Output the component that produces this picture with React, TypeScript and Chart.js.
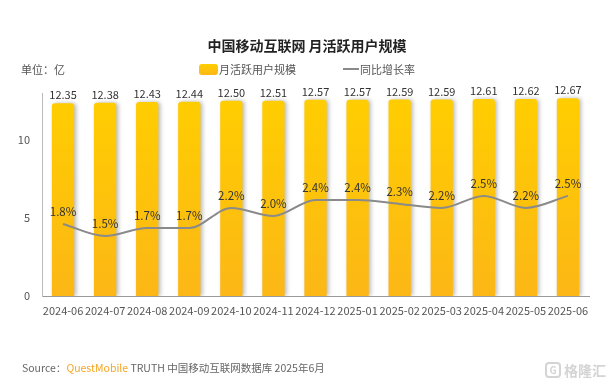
import React, { useEffect, useRef } from "react";
import { Chart, registerables } from "chart.js";

Chart.register(...registerables);

const categories = ["2024-06", "2024-07", "2024-08", "2024-09", "2024-10", "2024-11", "2024-12", "2025-01", "2025-02", "2025-03", "2025-04", "2025-05", "2025-06"];
const mauValues = [12.35, 12.38, 12.43, 12.44, 12.5, 12.51, 12.57, 12.57, 12.59, 12.59, 12.61, 12.62, 12.67];
const yoyValues = [1.8, 1.5, 1.7, 1.7, 2.2, 2.0, 2.4, 2.4, 2.3, 2.2, 2.5, 2.2, 2.5];
const yTicks = [0, 5, 10];

const FONT = "'Noto Sans CJK SC', 'Noto Sans', sans-serif";

const labelPlugin = {
  id: "valueLabels",
  afterDatasetsDraw(chart: any) {
    const ctx = chart.ctx;
    ctx.save();
    ctx.font = `11px ${FONT}`;
    ctx.fillStyle = "#333";
    ctx.textAlign = "center";
    ctx.textBaseline = "middle";
    const barMeta = chart.getDatasetMeta(0);
    barMeta.data.forEach((el: any, i: number) => {
      ctx.fillText(mauValues[i].toFixed(2), el.x, el.y - 8);
    });
    ctx.font = `11.5px ${FONT}`;
    const lineMeta = chart.getDatasetMeta(1);
    lineMeta.data.forEach((el: any, i: number) => {
      ctx.fillText(yoyValues[i].toFixed(1) + "%", el.x, el.y - 12);
    });
    ctx.restore();
  },
};

const shadowPlugin = {
  id: "barShadow",
  beforeDatasetDraw(chart: any, args: any) {
    if (args.index === 0) {
      const ctx = chart.ctx;
      ctx.save();
      ctx.shadowColor = "rgba(0,0,0,0.28)";
      ctx.shadowBlur = 4;
      ctx.shadowOffsetX = 2;
      ctx.shadowOffsetY = 0;
    }
  },
  afterDatasetDraw(chart: any, args: any) {
    if (args.index === 0) chart.ctx.restore();
  },
};

export default function App() {
  const ref = useRef<HTMLCanvasElement>(null);
  useEffect(() => {
    document.body.style.margin = "0";
    const canvas = ref.current!;
    const chart = new Chart(canvas, {
      type: "bar",
      data: {
        labels: categories,
        datasets: [
          {
            type: "bar",
            label: "月活跃用户规模",
            data: mauValues,
            backgroundColor: (c: any) => {
              const area = c.chart.chartArea;
              if (!area) return "#FFC400";
              const g = c.chart.ctx.createLinearGradient(0, area.top, 0, area.bottom);
              g.addColorStop(0, "#FFCE00");
              g.addColorStop(1, "#FCB716");
              return g;
            },
            borderRadius: { topLeft: 3, topRight: 3 },
            borderSkipped: "bottom",
            barPercentage: 0.53,
            categoryPercentage: 1,
            yAxisID: "y",
            order: 2,
          },
          {
            type: "line",
            label: "同比增长率",
            data: yoyValues,
            borderColor: "#8a8a8a",
            borderWidth: 2,
            pointRadius: 0,
            tension: 0.4,
            cubicInterpolationMode: "monotone",
            fill: false,
            yAxisID: "y2",
            order: 1,
          },
        ],
      },
      options: {
        animation: false,
        responsive: false,
        maintainAspectRatio: false,
        layout: { padding: { left: 0, right: 25, top: 93, bottom: 0 } },
        plugins: {
          legend: { display: false },
          title: { display: false },
          tooltip: { enabled: false },
        },
        scales: {
          x: {
            grid: { display: false, drawTicks: false },
            border: { color: "#999", width: 1 },
            ticks: {
              color: "#555",
              font: { size: 11, family: FONT },
              padding: 8,
              maxRotation: 0,
              autoSkip: false,
            },
            afterFit: (s: any) => {
              s.height = 85;
            },
          },
          y: {
            min: 0,
            max: 13,
            grid: { display: false, drawTicks: false },
            border: { color: "#bbb", width: 1 },
            afterBuildTicks: (s: any) => {
              s.ticks = yTicks.map((v) => ({ value: v }));
            },
            ticks: {
              color: "#555",
              font: { size: 11, family: FONT },
              padding: 12,
            },
            afterFit: (s: any) => {
              s.width = 42;
            },
          },
          y2: {
            display: false,
            min: 0,
            max: 5.07,
          },
        },
      },
      plugins: [shadowPlugin, labelPlugin],
    } as any);
    return () => chart.destroy();
  }, []);

  return (
    <div style={{ position: "relative", width: 614, height: 381, background: "#fff", fontFamily: FONT, overflow: "hidden" }}>
      <canvas ref={ref} width={614} height={381} style={{ position: "absolute", left: 0, top: 0, width: 614, height: 381 }} />
      <div style={{ position: "absolute", left: 0, width: 614, top: 35, textAlign: "center", fontSize: 14, fontWeight: "bold", color: "#222", lineHeight: "20px" }}>
        中国移动互联网 月活跃用户规模
      </div>
      <div style={{ position: "absolute", left: 21, top: 61, fontSize: 11, color: "#555", lineHeight: "16px" }}>单位：亿</div>
      <div style={{ position: "absolute", left: 199, top: 61, display: "flex", alignItems: "center", fontSize: 11, color: "#555", lineHeight: "16px" }}>
        <span style={{ display: "inline-block", width: 19, height: 11, borderRadius: 3, background: "linear-gradient(#FFCE00,#FCB716)", marginRight: 1 }} />
        <span>月活跃用户规模</span>
        <span style={{ display: "inline-block", width: 16, height: 2, background: "#8a8a8a", marginLeft: 47, marginRight: 1 }} />
        <span>同比增长率</span>
      </div>
      <div style={{ position: "absolute", left: 22, top: 360, fontSize: 10.5, color: "#666", lineHeight: "16px", whiteSpace: "nowrap" }}>
        Source：<span style={{ color: "#F5A623" }}>QuestMobile</span> TRUTH 中国移动互联网数据库 2025年6月
      </div>
      <div style={{ position: "absolute", left: 545, top: 358, fontSize: 14, color: "#d4d4d4", lineHeight: "20px", whiteSpace: "nowrap", fontWeight: "bold" }}>
        <span style={{ display: "inline-block", border: "2px solid #d4d4d4", borderRadius: 4, fontSize: 10, width: 12, height: 12, lineHeight: "12px", textAlign: "center", marginRight: 3, verticalAlign: "middle" }}>G</span>
        <span style={{ verticalAlign: "middle" }}>格隆汇</span>
      </div>
    </div>
  );
}
